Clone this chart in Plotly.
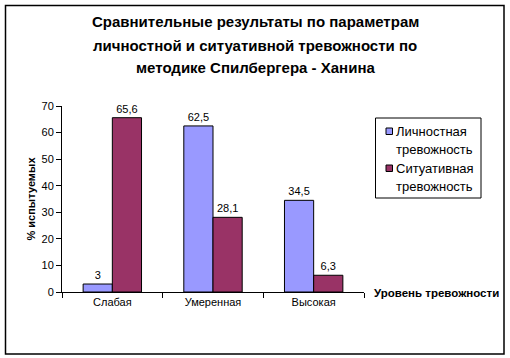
import plotly.graph_objects as go

categories = ["Слабая", "Умеренная", "Высокая"]
personal = [3, 62.5, 34.5]
situational = [65.6, 28.1, 6.3]
personal_labels = ["3", "62,5", "34,5"]
situational_labels = ["65,6", "28,1", "6,3"]
series_names = ["Личностная тревожность", "Ситуативная тревожность"]
legend_lines = [["Личностная", "тревожность"], ["Ситуативная", "тревожность"]]
colors = ["#9999FF", "#993366"]
title_lines = ["Сравнительные результаты по параметрам",
               "личностной и ситуативной тревожности по",
               "методике Спилбергера - Ханина"]

W, H = 510, 358
L, R, T, B = 62, 364, 106, 292
pw, ph = R - L, B - T

def px(x):
    return (x - L) / pw

def py(y):
    return (B - y) / ph

FONT = "Liberation Sans, Arial, sans-serif"

fig = go.Figure()
for vals, labels, name, col in [(personal, personal_labels, series_names[0], colors[0]),
                                (situational, situational_labels, series_names[1], colors[1])]:
    fig.add_bar(x=categories, y=vals, name=name, text=labels,
                textposition="outside", cliponaxis=False,
                marker=dict(color=col, line=dict(color="black", width=1)),
                textfont=dict(size=11, color="black", family=FONT))

fig.update_layout(
    width=W, height=H,
    margin=dict(l=L, r=W - R, t=T, b=H - B, pad=0, autoexpand=False),
    paper_bgcolor="white", plot_bgcolor="white",
    font=dict(family=FONT, size=11, color="black"),
    barmode="group", bargap=0.42, bargroupgap=0,
    showlegend=False,
    xaxis=dict(showline=True, linecolor="black", linewidth=1, ticks="outside",
               tickson="boundaries", ticklen=5, tickcolor="black", automargin=False,
               showgrid=False, tickfont=dict(size=11), fixedrange=True),
    yaxis=dict(range=[0, 70], dtick=10, showline=True, linecolor="black", linewidth=1,
               ticks="outside", ticklen=5, tickcolor="black", showgrid=False,
               zeroline=False, tickfont=dict(size=11), automargin=False, fixedrange=True,
               title=dict(text="% испытуемых", font=dict(size=11, weight="bold"), standoff=3)),
)

# title, line by line
for line, yc in zip(title_lines, [22, 45, 67]):
    fig.add_annotation(text=line, xref="paper", yref="paper", x=px(255), y=py(yc),
                       xanchor="center", yanchor="middle", showarrow=False,
                       font=dict(size=15, weight="bold", family=FONT))

fig.add_annotation(text="Уровень тревожности", xref="paper", yref="paper",
                   x=px(372), y=py(293), xanchor="left", yanchor="middle",
                   showarrow=False, font=dict(size=11.5, weight="bold", family=FONT))

# manual legend
fig.add_shape(type="rect", xref="paper", yref="paper",
              x0=px(375.5), x1=px(481), y0=py(198), y1=py(118),
              line=dict(color="black", width=1), fillcolor="white")
for (l1, l2), col, y1 in zip(legend_lines, colors, [131, 168]):
    fig.add_shape(type="rect", xref="paper", yref="paper",
                  x0=px(386), x1=px(392.5), y0=py(y1 + 3.5), y1=py(y1 - 3),
                  line=dict(color="black", width=1), fillcolor=col)
    fig.add_annotation(text=l1, xref="paper", yref="paper", x=px(393.5), y=py(y1),
                       xanchor="left", yanchor="middle", showarrow=False,
                       font=dict(size=13, family=FONT))
    fig.add_annotation(text=l2, xref="paper", yref="paper", x=px(393.5), y=py(y1 + 18),
                       xanchor="left", yanchor="middle", showarrow=False,
                       font=dict(size=13, family=FONT))

fig.add_shape(type="rect", xref="paper", yref="paper",
              x0=px(5.5), x1=px(504), y0=py(354), y1=py(5.5),
              line=dict(color="black", width=1.5), fillcolor="rgba(0,0,0,0)")

fig.write_html("out.html", config={"displayModeBar": False, "staticPlot": True},
               post_script="document.body.style.margin='0';document.body.style.overflow='hidden';")
